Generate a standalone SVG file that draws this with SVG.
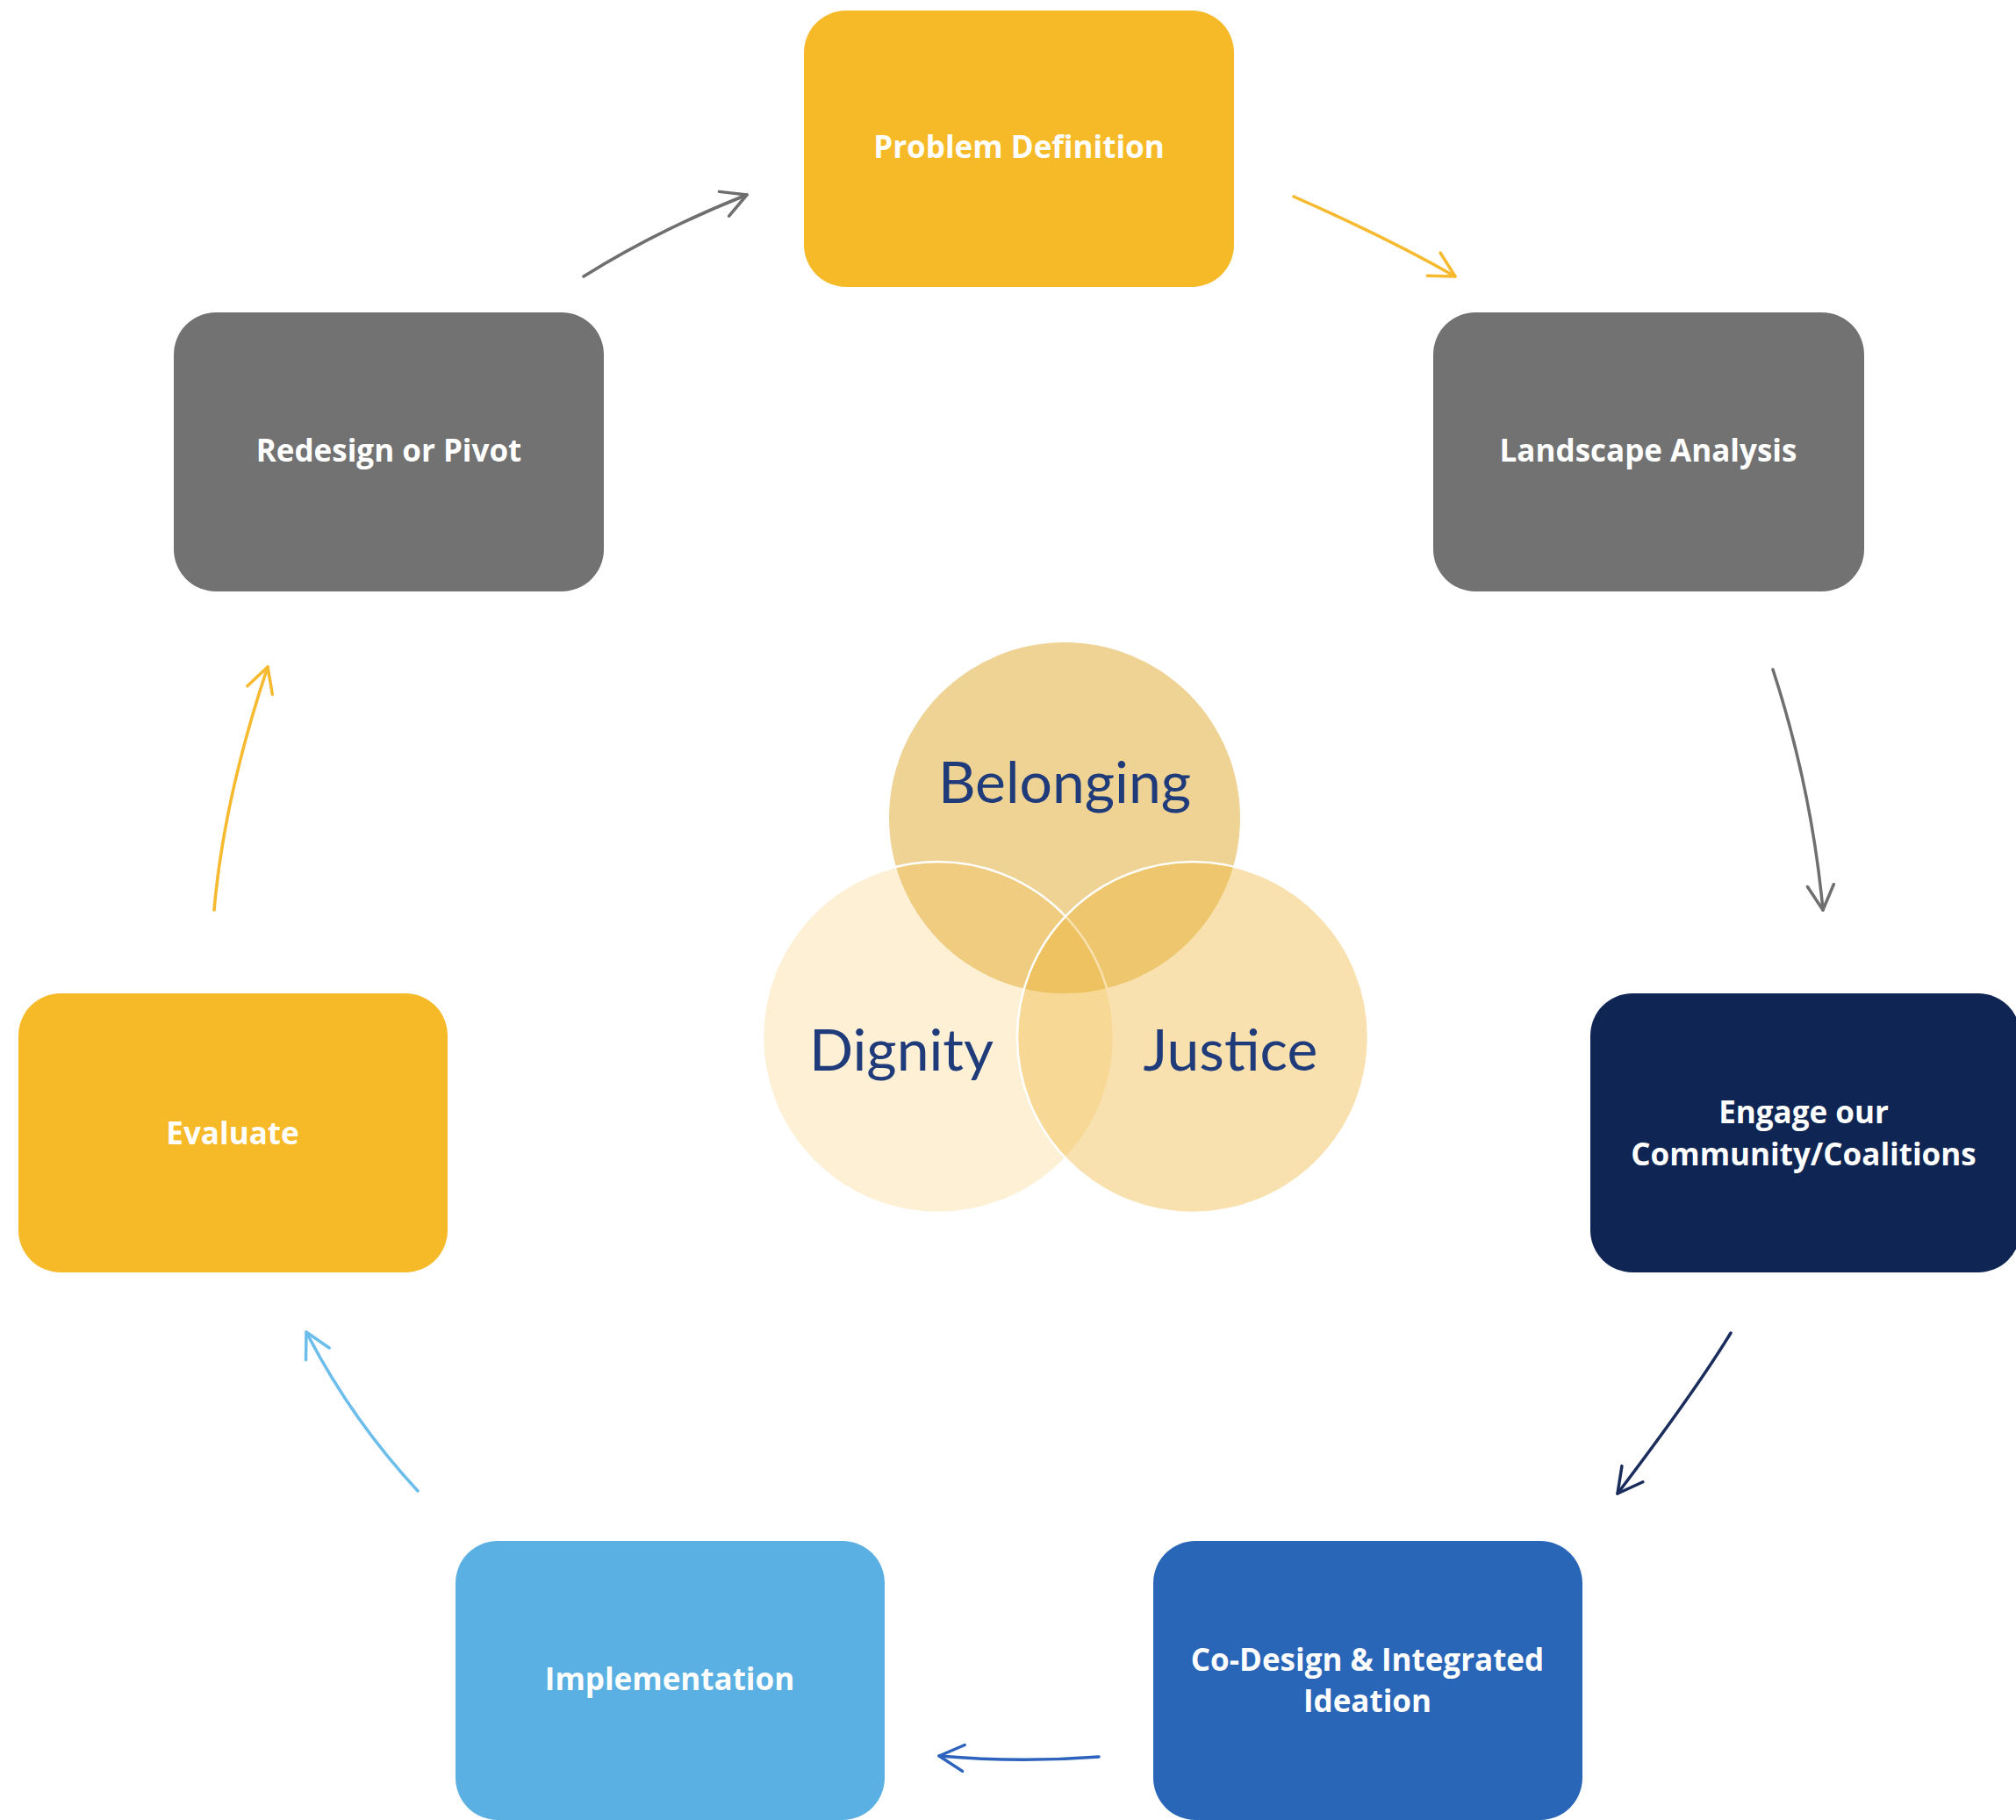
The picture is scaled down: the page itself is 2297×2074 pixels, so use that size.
<svg xmlns="http://www.w3.org/2000/svg" width="2297" height="2074" viewBox="0 0 2297 2074">
  <defs>
    <style>
      .node-label { font-family: "Open Sans", "Liberation Sans", sans-serif; font-weight: 700; font-size: 35px; fill: #ffffff; text-anchor: middle; }
      .venn-label { font-family: Lato, "Open Sans", "Liberation Sans", sans-serif; font-weight: 400; font-size: 66px; fill: #1f3b7a; text-anchor: middle; }
      .link { fill: none; stroke-width: 3.5; stroke-linecap: round; }
      .head { fill: none; stroke-width: 3.5; stroke-linecap: round; stroke-linejoin: round; }
    </style>
    <marker id="arrow-gray" markerUnits="userSpaceOnUse" viewBox="-32 -18 36 36" markerWidth="36" markerHeight="36" refX="0" refY="0" orient="auto">
      <path class="head" d="M-28,-15 L0,0 L-28,15" stroke="#6f6f6f"/>
    </marker>
    <marker id="arrow-yellow" markerUnits="userSpaceOnUse" viewBox="-32 -18 36 36" markerWidth="36" markerHeight="36" refX="0" refY="0" orient="auto">
      <path class="head" d="M-28,-15 L0,0 L-28,15" stroke="#f7b92e"/>
    </marker>
    <marker id="arrow-navy" markerUnits="userSpaceOnUse" viewBox="-32 -18 36 36" markerWidth="36" markerHeight="36" refX="0" refY="0" orient="auto">
      <path class="head" d="M-28,-15 L0,0 L-28,15" stroke="#1b2d5c"/>
    </marker>
    <marker id="arrow-blue" markerUnits="userSpaceOnUse" viewBox="-32 -18 36 36" markerWidth="36" markerHeight="36" refX="0" refY="0" orient="auto">
      <path class="head" d="M-28,-15 L0,0 L-28,15" stroke="#2d63bc"/>
    </marker>
    <marker id="arrow-sky" markerUnits="userSpaceOnUse" viewBox="-32 -18 36 36" markerWidth="36" markerHeight="36" refX="0" refY="0" orient="auto">
      <path class="head" d="M-28,-15 L0,0 L-28,15" stroke="#6bbdeb"/>
    </marker>
  </defs>

  <rect x="0" y="0" width="2297" height="2074" fill="#ffffff"/>

  <!-- Central values Venn diagram -->
  <g id="values">
    <circle cx="1213" cy="932" r="200" fill="#eed394"/>
    <circle cx="1069" cy="1182" r="200" fill="#f5b42d" fill-opacity="0.2" stroke="#ffffff" stroke-width="2.5"/>
    <circle cx="1359" cy="1182" r="200" fill="#edb434" fill-opacity="0.4" stroke="#ffffff" stroke-width="2.5"/>
    <text class="venn-label" x="1213" y="915">Belonging</text>
    <text class="venn-label" x="1027" y="1220">Dignity</text>
    <text class="venn-label" x="1402" y="1220">Justice</text>
  </g>

  <!-- Cycle stages -->
  <g id="problem-definition">
    <rect x="916" y="12" width="490" height="315" rx="48" fill="#f6ba28"/>
    <text class="node-label" x="1161" y="180">Problem Definition</text>
  </g>
  <g id="landscape-analysis">
    <rect x="1633" y="356" width="491" height="318" rx="48" fill="#727272"/>
    <text class="node-label" x="1878" y="526">Landscape Analysis</text>
  </g>
  <g id="engage-community">
    <rect x="1812" y="1132" width="490" height="318" rx="48" fill="#0f2654"/>
    <text class="node-label" x="2055" y="1280">Engage our</text>
    <text class="node-label" x="2055" y="1328">Community/Coalitions</text>
  </g>
  <g id="co-design">
    <rect x="1314" y="1756" width="489" height="318" rx="48" fill="#2a66b8"/>
    <text class="node-label" x="1558" y="1904">Co-Design &amp; Integrated</text>
    <text class="node-label" x="1558" y="1951">Ideation</text>
  </g>
  <g id="implementation">
    <rect x="519" y="1756" width="489" height="318" rx="48" fill="#5ab0e2"/>
    <text class="node-label" x="763" y="1926">Implementation</text>
  </g>
  <g id="evaluate">
    <rect x="21" y="1132" width="489" height="318" rx="48" fill="#f6ba28"/>
    <text class="node-label" x="265" y="1304">Evaluate</text>
  </g>
  <g id="redesign-pivot">
    <rect x="198" y="356" width="490" height="318" rx="48" fill="#727272"/>
    <text class="node-label" x="443" y="526">Redesign or Pivot</text>
  </g>

  <!-- Connectors between stages -->
  <g id="connectors">
    <path class="link" d="M665,315 Q750,262 851,222" stroke="#6f6f6f" marker-end="url(#arrow-gray)"/>
    <path class="link" d="M1474,224 Q1581,271 1658,315" stroke="#f7b92e" marker-end="url(#arrow-yellow)"/>
    <path class="link" d="M2020,763 Q2064,898 2077,1037" stroke="#6f6f6f" marker-end="url(#arrow-gray)"/>
    <path class="link" d="M1972,1519 Q1931,1586 1843,1702" stroke="#1b2d5c" marker-end="url(#arrow-navy)"/>
    <path class="link" d="M1252,2002 Q1161,2009 1070,2001" stroke="#2d63bc" marker-end="url(#arrow-blue)"/>
    <path class="link" d="M476,1699 Q400,1617 349,1518" stroke="#6bbdeb" marker-end="url(#arrow-sky)"/>
    <path class="link" d="M244,1037 Q255,910 305,760" stroke="#f7b92e" marker-end="url(#arrow-yellow)"/>
  </g>
</svg>
